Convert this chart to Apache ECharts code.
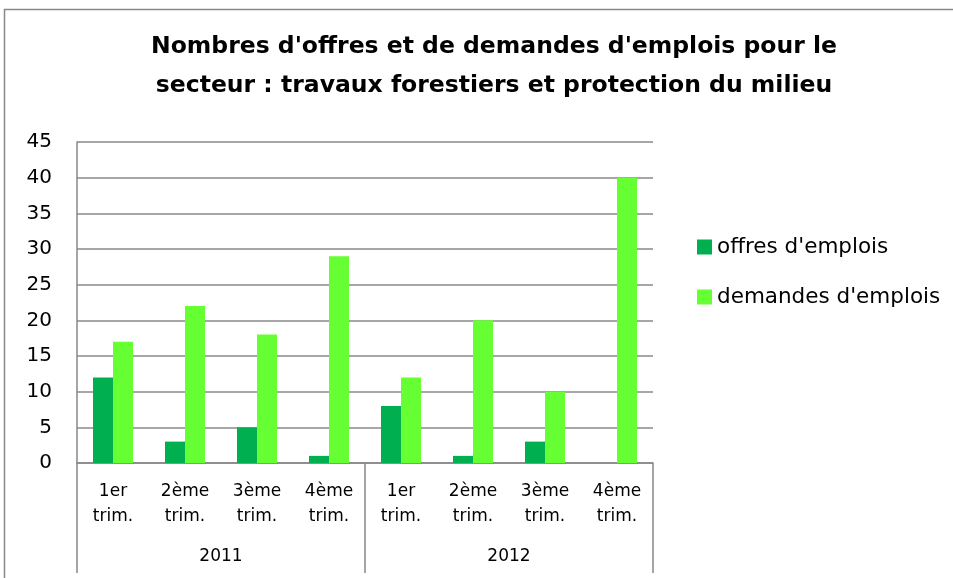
<!DOCTYPE html>
<html><head><meta charset="utf-8">
<script src="https://cdn.jsdelivr.net/npm/echarts@6/dist/echarts.min.js"></script>
<style>html,body{margin:0;padding:0;background:#fff}#c{width:953px;height:578px}</style>
</head><body><div id="c"></div>
<script>
const categories = ['1er\ntrim.','2ème\ntrim.','3ème\ntrim.','4ème\ntrim.','1er\ntrim.','2ème\ntrim.','3ème\ntrim.','4ème\ntrim.'];
const years = ['2011','2012'];
const offres = [12, 3, 5, 1, 8, 1, 3, 0];
const demandes = [17, 22, 18, 29, 12, 20, 10, 40];
const yTicks = {min: 0, max: 45, interval: 5};

const font = '"DejaVu Sans", sans-serif';
const chart = echarts.init(document.getElementById('c'));
chart.setOption({
  animation: false,
  title: {
    text: "Nombres d'offres et de demandes d'emplois pour le\nsecteur : travaux forestiers et protection du milieu",
    left: 489, top: 22, textAlign: 'center',
    textStyle: {fontFamily: font, fontWeight: 'bold', fontSize: 23.5, lineHeight: 39, color: '#000'}
  },
  graphic: [{type: 'rect', shape: {x: 4.5, y: 9.5, width: 980, height: 600}, style: {fill: 'none', stroke: '#888', lineWidth: 1.5}, silent: true}],
  legend: {
    orient: 'vertical', left: 697, top: 235, itemGap: 26, padding: 0,
    itemWidth: 15, itemHeight: 15, icon: 'rect',
    textStyle: {fontFamily: font, fontSize: 21.5, lineHeight: 24, color: '#000'},
    data: ["offres d'emplois", "demandes d'emplois"]
  },
  grid: {left: 77, right: 300, top: 142, bottom: 115, containLabel: false},
  xAxis: [{
    type: 'category', data: categories, position: 'bottom',
    axisLine: {lineStyle: {color: '#888', width: 1.5}},
    axisTick: {show: false},
    axisLabel: {interval: 0, fontFamily: font, fontSize: 17, color: '#000', lineHeight: 25, margin: 16}
  }, {
    type: 'category', data: years, position: 'bottom',
    axisLine: {show: false},
    axisTick: {show: true, length: 110, interval: 0, lineStyle: {color: '#888', width: 1.5}},
    axisLabel: {interval: 0, fontFamily: font, fontSize: 17, color: '#000', margin: 85}
  }],
  yAxis: {
    type: 'value', min: yTicks.min, max: yTicks.max, interval: yTicks.interval,
    axisLine: {show: true, lineStyle: {color: '#888', width: 1.5}},
    axisTick: {show: false},
    splitLine: {lineStyle: {color: '#888', width: 1.5}},
    axisLabel: {fontFamily: font, fontSize: 20, color: '#000', margin: 25}
  },
  series: [{
    name: "offres d'emplois", type: 'bar', data: offres, xAxisIndex: 0,
    barWidth: 20, barGap: '0%', itemStyle: {color: '#00B050'}
  }, {
    name: "demandes d'emplois", type: 'bar', data: demandes, xAxisIndex: 0,
    barWidth: 20, barGap: '0%', itemStyle: {color: '#66FF33'}
  }]
});
</script></body></html>
